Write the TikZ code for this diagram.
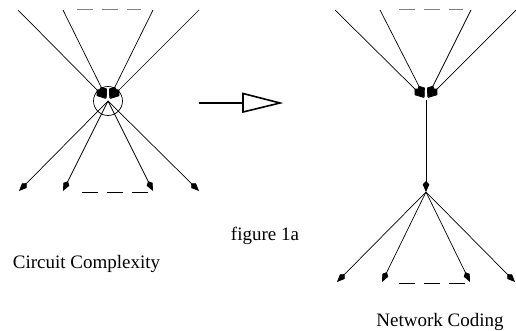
\documentclass[tikz,border=0pt]{standalone}
\usepackage{fontspec}
\setmainfont{Liberation Serif}
\usetikzlibrary{arrows.meta}
\begin{document}
\begin{tikzpicture}[x=1pt,y=-1pt,
  wire/.style={line width=0.7pt},
  spear/.style={-{Kite[length=11pt,width=6.5pt,inset=3.5pt]}},
  bigspear/.style={-{Kite[length=13pt,width=9pt,inset=4.5pt]}},
  gap/.style={line width=1pt,dash pattern=on 16pt off 9pt},
  label/.style={font=\fontsize{19}{22}\selectfont,inner sep=0pt}]
\useasboundingbox (0,0) rectangle (516,331);

% ---- left: circuit gate with fan-in and fan-out ----
\coordinate (lc) at (108,101);
\coordinate (lt1) at (18,10);
\coordinate (lt2) at (63,10);
\coordinate (lt3) at (153,10);
\coordinate (lt4) at (199,10);
\coordinate (lb1) at (19,191);
\coordinate (lb2) at (63,191);
\coordinate (lb3) at (153,191);
\coordinate (lb4) at (199,191);
\node[draw,circle,minimum size=29pt,inner sep=0pt,line width=0.7pt] (gate) at (108,101) {};
\foreach \t in {lt1,lt2,lt3,lt4}
  \draw[wire,bigspear,shorten >=3pt] (\t) -- (lc);
\foreach \b in {lb1,lb2,lb3,lb4}
  \draw[wire,spear] (lc) -- (\b);
\coordinate (lda) at (77,10);  \coordinate (ldb) at (141,10);
\coordinate (lea) at (82,192); \coordinate (leb) at (149,192);
\draw[gap,gray] (lda) -- (ldb);
\draw[gap] (lea) -- (leb);

% ---- transformation arrow ----
\coordinate (ma) at (199,103);
\coordinate (mb) at (243,103);
\draw[line width=1.8pt] (ma) -- (mb);
\draw[line width=1.6pt,line join=miter] (243,93.5) -- (280,103) -- (243,112) -- cycle;

% ---- right: network coding node pair ----
\coordinate (rc) at (426,100);
\coordinate (rd) at (426,192);
\coordinate (rt1) at (335,10);
\coordinate (rt2) at (380,10);
\coordinate (rt3) at (471,10);
\coordinate (rt4) at (516,10);
\coordinate (rb1) at (337,282);
\coordinate (rb2) at (382,282);
\coordinate (rb3) at (470,282);
\coordinate (rb4) at (515,282);
\foreach \t in {rt1,rt2,rt3,rt4}
  \draw[wire,bigspear,shorten >=3pt] (\t) -- (rc);
\draw[wire,spear] (rc) -- (rd);
\foreach \b in {rb1,rb2,rb3,rb4}
  \draw[wire,spear] (rd) -- (\b);
\coordinate (rda) at (399,10);  \coordinate (rdb) at (463,10);
\coordinate (rea) at (399,283); \coordinate (reb) at (467,283);
\draw[gap,gray] (rda) -- (rdb);
\draw[gap] (rea) -- (reb);

% ---- captions ----
\node[label] (cc) at (86.5,264) {Circuit Complexity};
\node[label] (fig) at (265,236) {figure 1a};
\node[label] (nc) at (440,322) {Network Coding};
\end{tikzpicture}
\end{document}
